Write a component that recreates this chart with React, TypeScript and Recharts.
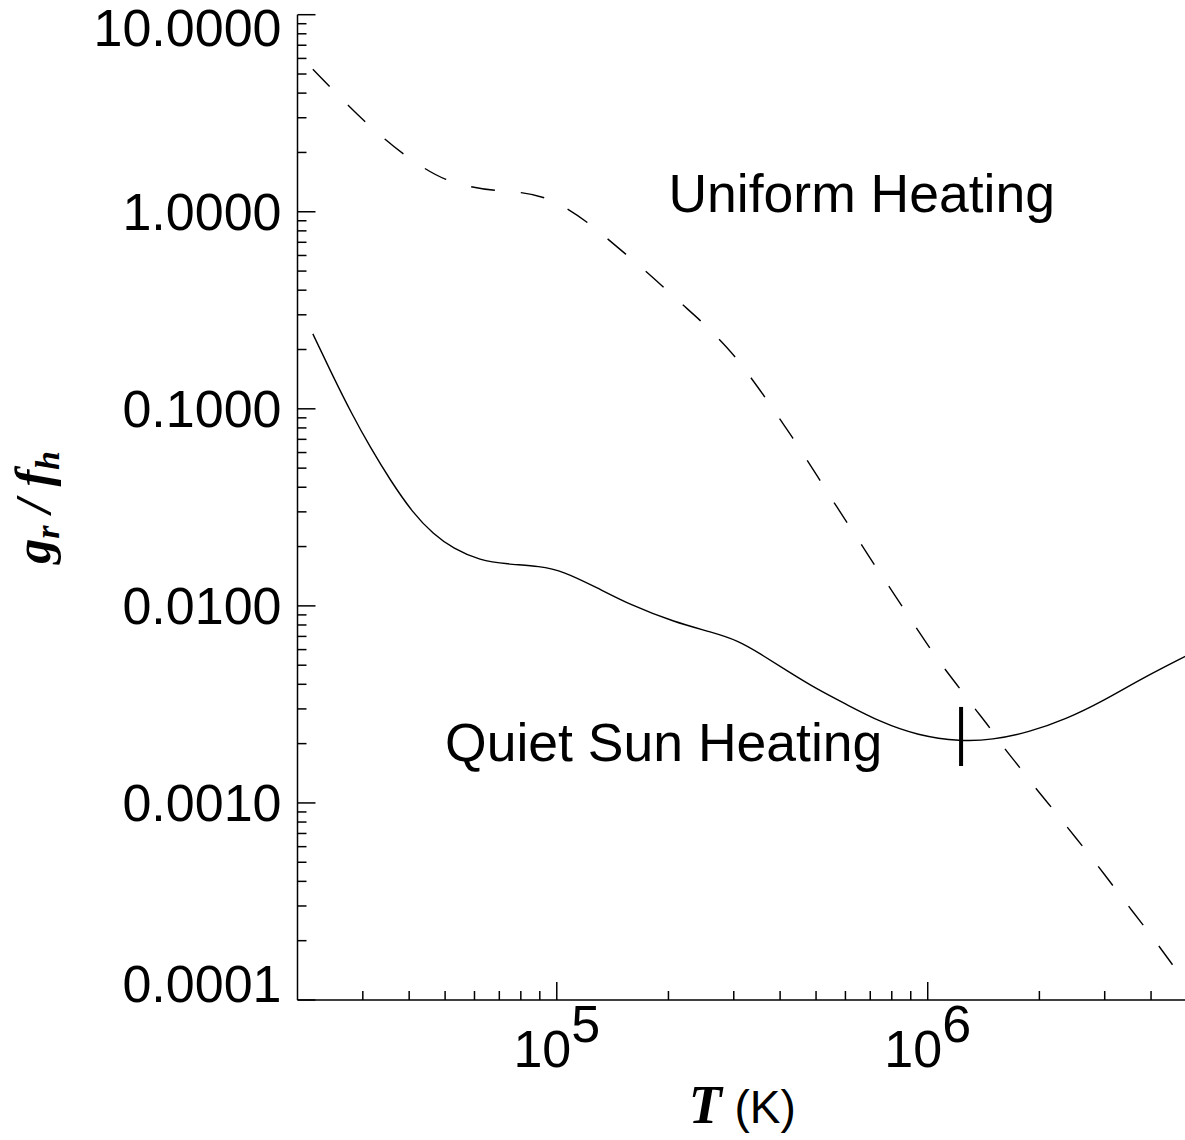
import React from 'react';
import { LineChart, Line, XAxis, YAxis, ReferenceLine, ReferenceDot } from 'recharts';

// Temperature grid (K) and g_r/f_h for the quiet-Sun heating profile (solid)
const quietSunT = [
  2.2e4, 2.5e4, 2.8e4, 3.14e4, 3.56e4, 4.11e4, 4.64e4, 5.26e4, 6.21e4, 7.33e4,
  9.02e4, 1.04e5, 1.28e5, 1.58e5, 2.08e5, 2.62e5, 3.08e5, 3.54e5, 4.17e5, 5.01e5,
  6.04e5, 7.43e5, 9.38e5, 1.23e6, 1.49e6, 1.87e6, 2.37e6, 2.98e6, 3.76e6, 5.0e6,
];
const quietSunG = [
  0.24, 0.1446, 0.0944, 0.0638, 0.0433, 0.0293, 0.0232, 0.0195, 0.017, 0.0163,
  0.0159, 0.015, 0.0124, 0.0101, 0.00826, 0.00735, 0.00667, 0.00571, 0.00469, 0.00379,
  0.00316, 0.00258, 0.0022, 0.00205, 0.00209, 0.00228, 0.00267, 0.0033, 0.00426, 0.0056,
];

// Temperature grid (K) and g_r/f_h for uniform heating (dashed)
const uniformT = [
  2.2e4, 2.45e4, 2.74e4, 3.05e4, 3.44e4, 3.87e4, 4.41e4, 4.99e4, 5.89e4, 6.81e4,
  8.04e4, 9.29e4, 1.07e5, 1.21e5, 1.36e5, 1.53e5, 1.73e5, 1.94e5, 2.18e5, 2.44e5,
  2.74e5, 3.03e5, 3.33e5, 3.64e5, 3.97e5, 4.33e5, 4.72e5, 5.13e5, 5.57e5, 6.05e5,
  6.61e5, 7.16e5, 7.83e5, 8.51e5, 9.29e5, 1.01e6, 1.11e6, 1.22e6, 1.34e6, 1.47e6,
  1.61e6, 1.77e6, 1.95e6, 2.15e6, 2.37e6, 2.61e6, 2.87e6, 3.16e6, 3.47e6, 3.81e6,
  4.19e6, 4.57e6,
];
const uniformG = [
  5.28, 4.29, 3.46, 2.85, 2.33, 1.95, 1.65, 1.45, 1.33, 1.28,
  1.26, 1.19, 1.04, 0.885, 0.738, 0.612, 0.503, 0.414, 0.338, 0.281,
  0.226, 0.184, 0.1446, 0.115, 0.09, 0.0713, 0.0551, 0.0433, 0.0338, 0.0266,
  0.0206, 0.0163, 0.0127, 0.01004, 0.00778, 0.00616, 0.00479, 0.00382, 0.003, 0.00242,
  0.00188, 0.00152, 0.00119, 0.000958, 0.000758, 0.000607, 0.000481, 0.00038, 0.000301, 0.00024,
  0.000189, 0.000151,
];

// Marker at the quiet-Sun minimum
const markerT = 1.23e6;
const markerRange = [0.00154, 0.00307];

// Axis ranges and ticks
const tDomain = [2e4, 5e6];
const gDomain = [1e-4, 10];
const tMinorTicks = [3e4, 4e4, 5e4, 6e4, 7e4, 8e4, 9e4, 2e5, 3e5, 4e5, 5e5, 6e5, 7e5, 8e5, 9e5, 2e6, 3e6, 4e6];
const tMajorTicks = [1e5, 1e6];
const tMajorExponents = ['5', '6'];
const gMajorTicks = [1e-4, 1e-3, 1e-2, 1e-1, 1, 10];
const gMajorLabels = ['0.0001', '0.0010', '0.0100', '0.1000', '1.0000', '10.0000'];
const gMinorMultipliers = [2, 3, 4, 5, 6, 7, 8, 9];

// Text annotations anchored in data space
const annotations = [
  { T: 2e5, g: 1.0, text: 'Uniform Heating' },
  { T: 5e4, g: 0.00164, text: 'Quiet Sun Heating' },
];

const quietSunData = quietSunT.map((T, i) => ({ T, g: quietSunG[i] }));
const uniformData = uniformT.map((T, i) => ({ T, g: uniformG[i] }));

const tTicks = [...tMinorTicks, ...tMajorTicks].sort((a, b) => a - b);
const gTicks = [
  ...gMajorTicks,
  ...gMajorTicks.slice(0, -1).flatMap((d) => gMinorMultipliers.map((m) => d * m)),
].sort((a, b) => a - b);

const SANS = '"Liberation Sans", Arial, Helvetica, sans-serif';
const SERIF = '"Liberation Serif", "Times New Roman", serif';
const MAJOR_LEN = 18;
const MINOR_LEN = 9;
const AXIS_W = 1.5;
const LABEL_SIZE = 52;
const NOTE_SIZE = 53.5;

const isDecade = (v: number) => Math.abs(Math.log10(v) - Math.round(Math.log10(v))) < 1e-6;
const decadeIndex = (arr: number[], v: number) =>
  arr.findIndex((d) => Math.abs(Math.log10(d) - Math.log10(v)) < 1e-6);

const LeftTick = (props: any) => {
  const { x, y, payload } = props;
  const v = payload.value;
  const major = isDecade(v);
  const idx = major ? decadeIndex(gMajorTicks, v) : -1;
  let dy = 18;
  if (idx === gMajorTicks.length - 1) dy = 31;
  if (idx === 0) dy = 2;
  return (
    <g>
      <line x1={x} y1={y} x2={x + (major ? MAJOR_LEN : MINOR_LEN)} y2={y} stroke="#000" strokeWidth={AXIS_W} />
      {idx >= 0 && (
        <text x={x - 16} y={y + dy} textAnchor="end" fontFamily={SANS} fontSize={LABEL_SIZE} fill="#000">
          {gMajorLabels[idx]}
        </text>
      )}
    </g>
  );
};

const RightTick = (props: any) => {
  const { x, y, payload } = props;
  const major = isDecade(payload.value);
  return <line x1={x} y1={y} x2={x - (major ? MAJOR_LEN : MINOR_LEN)} y2={y} stroke="#000" strokeWidth={AXIS_W} />;
};

const BottomTick = (props: any) => {
  const { x, y, payload } = props;
  const v = payload.value;
  const major = isDecade(v);
  const idx = major ? decadeIndex(tMajorTicks, v) : -1;
  return (
    <g>
      <line x1={x} y1={y} x2={x} y2={y - (major ? MAJOR_LEN : MINOR_LEN)} stroke="#000" strokeWidth={AXIS_W} />
      {idx >= 0 && (
        <text x={x} y={y + 67} textAnchor="middle" fontFamily={SANS} fontSize={LABEL_SIZE} fill="#000">
          <tspan>10</tspan>
          <tspan dy={-25}>{tMajorExponents[idx]}</tspan>
        </text>
      )}
    </g>
  );
};

const TopTick = (props: any) => {
  const { x, y, payload } = props;
  const major = isDecade(payload.value);
  return <line x1={x} y1={y} x2={x} y2={y + (major ? MAJOR_LEN : MINOR_LEN)} stroke="#000" strokeWidth={AXIS_W} />;
};

const XTitle = (props: any) => {
  const vb = props.viewBox;
  const cx = vb.x + vb.width / 2;
  return (
    <text x={cx} y={vb.y + 123} textAnchor="middle" fill="#000">
      <tspan fontFamily={SERIF} fontStyle="italic" fontWeight="bold" fontSize={54}>T</tspan>
      <tspan fontFamily={SANS} fontSize={46}> (K)</tspan>
    </text>
  );
};

const YTitle = (props: any) => {
  const vb = props.viewBox;
  const cy = vb.y + vb.height / 2;
  return (
    <text
      x={0}
      y={0}
      transform={`translate(${vb.x + 50}, ${cy}) rotate(-90)`}
      textAnchor="middle"
      fill="#000"
      fontFamily={SERIF}
      fontStyle="italic"
      fontWeight="bold"
    >
      <tspan fontSize={50}>g</tspan>
      <tspan fontSize={34} dy={9}>r</tspan>
      <tspan fontSize={50} dy={-9}> / f</tspan>
      <tspan fontSize={34} dy={9}>h</tspan>
    </text>
  );
};

export default function App() {
  return (
    <div style={{ position: 'absolute', left: 0, top: 0, width: 1185, height: 1140, overflow: 'hidden', background: '#fff' }}>
      <LineChart width={1190} height={1140} margin={{ top: 14.7, right: 3, bottom: 0, left: 0 }}>
        <XAxis
          xAxisId="bottom"
          dataKey="T"
          type="number"
          scale="log"
          domain={tDomain}
          allowDataOverflow
          ticks={tTicks}
          interval={0}
          tickSize={0}
          tickMargin={0}
          tickLine={false}
          tick={<BottomTick />}
          height={140}
          axisLine={{ stroke: '#000', strokeWidth: AXIS_W }}
          label={XTitle}
        />
        <XAxis
          xAxisId="top"
          orientation="top"
          dataKey="T"
          type="number"
          scale="log"
          domain={tDomain}
          allowDataOverflow
          ticks={tTicks}
          interval={0}
          tickSize={0}
          tickMargin={0}
          tickLine={false}
          tick={<TopTick />}
          height={0}
          axisLine={{ stroke: '#000', strokeWidth: AXIS_W }}
        />
        <YAxis
          yAxisId="left"
          type="number"
          scale="log"
          domain={gDomain}
          allowDataOverflow
          ticks={gTicks}
          interval={0}
          tickSize={0}
          tickMargin={0}
          tickLine={false}
          tick={<LeftTick />}
          width={297.5}
          axisLine={{ stroke: '#000', strokeWidth: AXIS_W }}
          label={YTitle}
        />
        <YAxis
          yAxisId="right"
          orientation="right"
          type="number"
          scale="log"
          domain={gDomain}
          allowDataOverflow
          ticks={gTicks}
          interval={0}
          tickSize={0}
          tickMargin={0}
          tickLine={false}
          tick={<RightTick />}
          width={0}
          axisLine={{ stroke: '#000', strokeWidth: AXIS_W }}
        />
        <Line
          xAxisId="bottom"
          yAxisId="left"
          data={uniformData}
          dataKey="g"
          type="basis"
          stroke="#000"
          strokeWidth={1.4}
          strokeDasharray="24 26"
          dot={false}
          activeDot={false}
          isAnimationActive={false}
        />
        <Line
          xAxisId="bottom"
          yAxisId="left"
          data={quietSunData}
          dataKey="g"
          type="basis"
          stroke="#000"
          strokeWidth={1.4}
          dot={false}
          activeDot={false}
          isAnimationActive={false}
        />
        <ReferenceLine
          xAxisId="bottom"
          yAxisId="left"
          segment={[{ x: markerT, y: markerRange[0] }, { x: markerT, y: markerRange[1] }]}
          stroke="#000"
          strokeWidth={4}
          ifOverflow="visible"
        />
        {annotations.map((a) => (
          <ReferenceDot
            key={a.text}
            xAxisId="bottom"
            yAxisId="left"
            x={a.T}
            y={a.g}
            r={0}
            ifOverflow="visible"
            shape={(p: any) => (
              <text x={p.cx} y={p.cy} textAnchor="start" fontFamily={SANS} fontSize={NOTE_SIZE} fill="#000">
                {a.text}
              </text>
            )}
          />
        ))}
      </LineChart>
    </div>
  );
}
